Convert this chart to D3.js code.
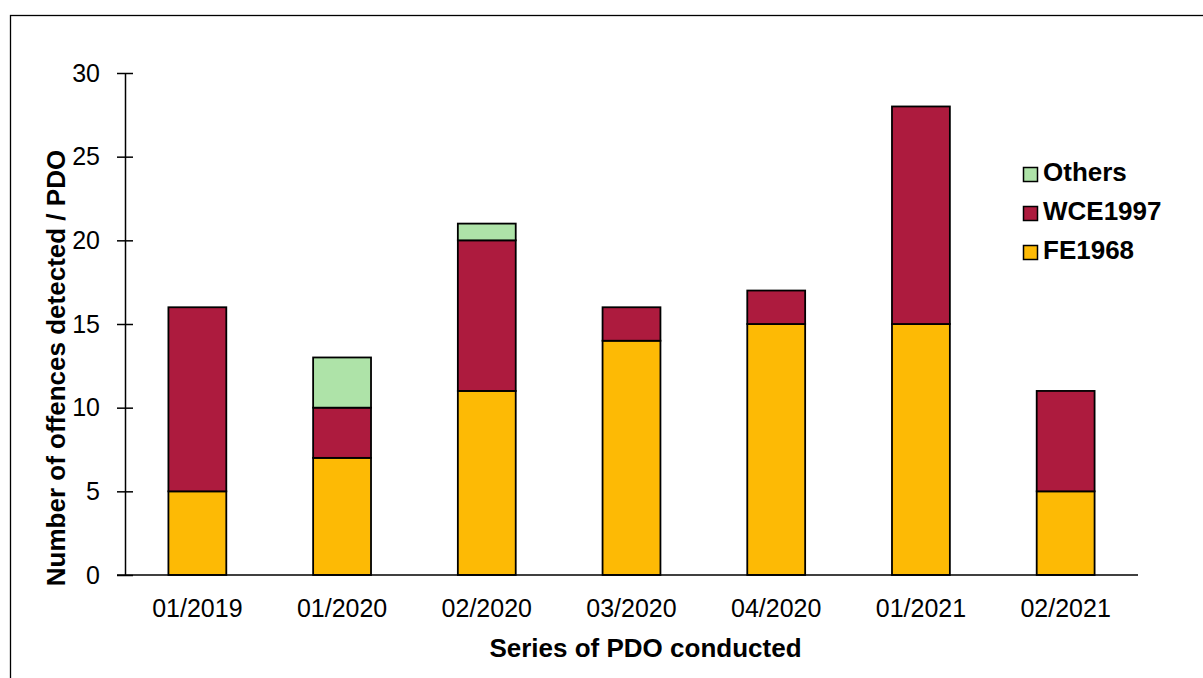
<!DOCTYPE html>
<html>
<head>
<meta charset="utf-8">
<script src="https://cdn.jsdelivr.net/npm/d3@7"></script>
<style>
  body { margin: 0; background: #fff; }
  svg { display: block; font-family: "Liberation Sans", Arial, sans-serif; }
</style>
</head>
<body>
<svg id="chart" width="1203" height="678"></svg>
<script>
// Offences detected per PDO series, split by act
const categories = ["01/2019", "01/2020", "02/2020", "03/2020", "04/2020", "01/2021", "02/2021"];
const fe1968 = [5, 7, 11, 14, 15, 15, 5];
const wce1997 = [11, 3, 9, 2, 2, 13, 6];
const others = [0, 3, 1, 0, 0, 0, 0];
const seriesNames = ["FE1968", "WCE1997", "Others"];
const seriesColors = ["#FDBA05", "#AD1B3E", "#AEE3A8"];
const yTicks = [0, 5, 10, 15, 20, 25, 30];

const svg = d3.select("#chart");
const FONT = "Liberation Sans, Arial, sans-serif";

// outer frame
svg.append("rect")
  .attr("x", 10.5).attr("y", 15.5)
  .attr("width", 1220).attr("height", 700)
  .attr("fill", "none").attr("stroke", "#000").attr("stroke-width", 1.3);

const m = { left: 125, right: 1138, top: 73, bottom: 575 };

const x = d3.scaleBand().domain(categories).range([m.left, m.right]).paddingInner(0.6).paddingOuter(0.3);
const y = d3.scaleLinear().domain([0, 30]).range([m.bottom, m.top]);

const table = categories.map((c, i) => ({ cat: c, FE1968: fe1968[i], WCE1997: wce1997[i], Others: others[i] }));
const stacked = d3.stack().keys(seriesNames)(table);

stacked.forEach((layer, li) => {
  svg.append("g").selectAll("rect")
    .data(layer.filter(d => d[1] - d[0] > 0))
    .join("rect")
    .attr("x", d => x(d.data.cat))
    .attr("width", x.bandwidth())
    .attr("y", d => y(d[1]))
    .attr("height", d => y(d[0]) - y(d[1]))
    .attr("fill", seriesColors[li])
    .attr("stroke", "#000")
    .attr("stroke-width", 1.8);
});

// y axis
const yAxis = svg.append("g")
  .attr("transform", `translate(${m.left},0)`)
  .call(d3.axisLeft(y).tickValues(yTicks).tickSize(0).tickPadding(25));
yAxis.select(".domain").attr("stroke", "#000").attr("stroke-width", 1.5);
yAxis.selectAll(".tick").append("line")
  .attr("x1", -8).attr("x2", 8).attr("stroke", "#000").attr("stroke-width", 1.5);
yAxis.selectAll("text").attr("font-size", 25).attr("fill", "#000").attr("font-family", FONT);

// x axis baseline
const xAxis = svg.append("g")
  .attr("transform", `translate(0,${m.bottom})`)
  .call(d3.axisBottom(x).tickSize(0).tickPadding(24));
xAxis.select(".domain").attr("d", `M${m.left - 8},0H${m.right}`).attr("stroke", "#000").attr("stroke-width", 1.5);
xAxis.selectAll("text").attr("font-size", 25).attr("fill", "#000").attr("font-family", FONT);

// axis titles
svg.append("text")
  .attr("x", 645.5).attr("y", 657)
  .attr("text-anchor", "middle")
  .attr("font-size", 26).attr("font-weight", "bold")
  .text("Series of PDO conducted");

svg.append("text")
  .attr("transform", `translate(65,368) rotate(-90)`)
  .attr("text-anchor", "middle")
  .attr("font-size", 26).attr("font-weight", "bold")
  .text("Number of offences detected / PDO");

// legend
const legendItems = [2, 1, 0];
const legend = svg.append("g");
legendItems.forEach((si, k) => {
  const base = 181 + k * 39;
  legend.append("rect")
    .attr("x", 1023.5).attr("y", base - 13.5).attr("width", 14).attr("height", 14)
    .attr("fill", seriesColors[si]).attr("stroke", "#000").attr("stroke-width", 1.5);
  legend.append("text")
    .attr("x", 1043).attr("y", base)
    .attr("font-size", 26).attr("font-weight", "bold")
    .text(seriesNames[si]);
});
</script>
</body>
</html>
